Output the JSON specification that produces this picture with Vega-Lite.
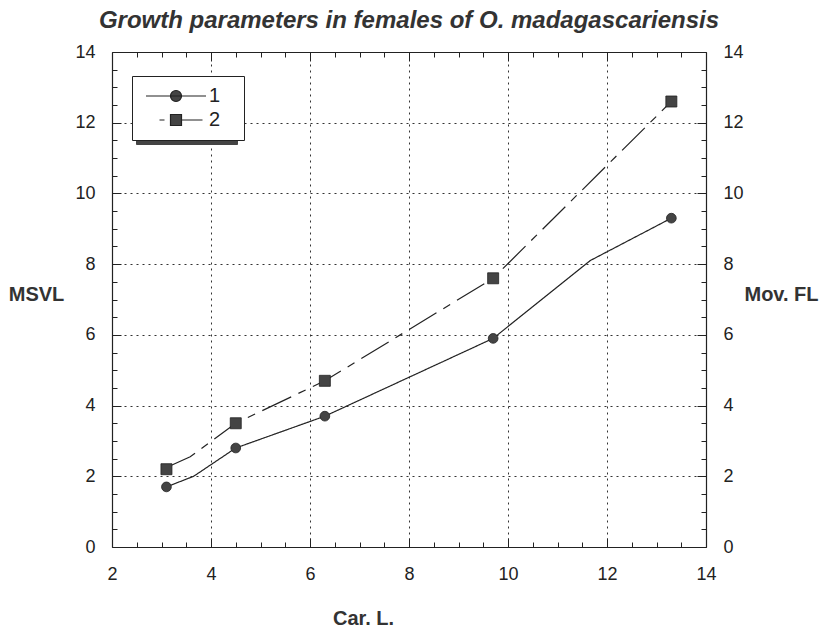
{
  "$schema": "https://vega.github.io/schema/vega-lite/v6.json",
  "width": 594,
  "height": 495,
  "autosize": {"type": "none"},
  "padding": {"left": 112, "top": 52, "right": 122, "bottom": 85},
  "background": "white",
  "title": {
    "text": "Growth parameters in females of O. madagascariensis",
    "font": "Liberation Sans",
    "fontSize": 24,
    "fontStyle": "italic",
    "fontWeight": "bold",
    "color": "#333",
    "anchor": "middle",
    "frame": "group",
    "offset": 10
  },
  "datasets": {
    "lines": [
      {"series": "1", "car": 3.1, "val": 1.7},
      {"series": "1", "car": 3.65, "val": 2.0},
      {"series": "1", "car": 4.5, "val": 2.8},
      {"series": "1", "car": 6.3, "val": 3.7},
      {"series": "1", "car": 9.7, "val": 5.9},
      {"series": "1", "car": 11.66, "val": 8.1},
      {"series": "1", "car": 13.3, "val": 9.3},
      {"series": "2", "car": 3.1, "val": 2.25},
      {"series": "2", "car": 3.58, "val": 2.55},
      {"series": "2", "car": 4.5, "val": 3.5},
      {"series": "2", "car": 6.3, "val": 4.7},
      {"series": "2", "car": 9.7, "val": 7.6},
      {"series": "2", "car": 13.3, "val": 12.6}
    ],
    "points": [
      {"series": "1", "car": 3.1, "val": 1.7},
      {"series": "1", "car": 4.5, "val": 2.8},
      {"series": "1", "car": 6.3, "val": 3.7},
      {"series": "1", "car": 9.7, "val": 5.9},
      {"series": "1", "car": 13.3, "val": 9.3},
      {"series": "2", "car": 3.1, "val": 2.2},
      {"series": "2", "car": 4.5, "val": 3.5},
      {"series": "2", "car": 6.3, "val": 4.7},
      {"series": "2", "car": 9.7, "val": 7.6},
      {"series": "2", "car": 13.3, "val": 12.6}
    ]
  },
  "layer": [
    {
      "data": {"name": "lines"},
      "mark": {"type": "line", "strokeWidth": 1.2, "color": "#222"},
      "encoding": {
        "x": {
          "field": "car", "type": "quantitative",
          "scale": {"domain": [2, 14], "nice": false, "zero": false},
          "axis": {
            "orient": "bottom",
            "title": "Car. L.",
            "titleX": 251, "titleY": 71, "titleAlign": "center", "titleBaseline": "middle",
            "values": [2,2.5,3,3.5,4,4.5,5,5.5,6,6.5,7,7.5,8,8.5,9,9.5,10,10.5,11,11.5,12,12.5,13,13.5,14],
            "labelExpr": "datum.value % 2 === 0 ? format(datum.value, 'd') : ''",
            "labelOverlap": false, "labelFlush": false,
            "labelPadding": 27,
            "tickSize": {"expr": "datum.value % 2 === 0 ? -9 : -5"},
            "grid": true,
            "gridDash": [2, 4],
            "gridColor": "#333",
            "gridOpacity": {"expr": "datum.value % 2 === 0 && datum.value > 2 && datum.value < 14 ? 1 : 0"}
          }
        },
        "y": {
          "field": "val", "type": "quantitative",
          "scale": {"domain": [0, 14], "nice": false},
          "axis": {
            "orient": "left",
            "title": "MSVL",
            "titleAngle": 0, "titleX": -76, "titleY": 242, "titleAlign": "center", "titleBaseline": "middle",
            "values": [0,0.5,1,1.5,2,2.5,3,3.5,4,4.5,5,5.5,6,6.5,7,7.5,8,8.5,9,9.5,10,10.5,11,11.5,12,12.5,13,13.5,14],
            "labelExpr": "datum.value % 2 === 0 ? format(datum.value, 'd') : ''",
            "labelOverlap": false, "labelFlush": false,
            "labelPadding": 26,
            "tickSize": {"expr": "datum.value % 2 === 0 ? -9 : -5"},
            "grid": true,
            "gridDash": [2, 4],
            "gridColor": "#333",
            "gridOpacity": {"expr": "datum.value % 2 === 0 && datum.value > 0 && datum.value < 14 ? 1 : 0"}
          }
        },
        "strokeDash": {
          "field": "series", "type": "nominal",
          "scale": {"domain": ["1", "2"], "range": [[1, 0], [32, 8, 8, 8]]},
          "legend": null
        }
      }
    },
    {
      "data": {"name": "points"},
      "mark": {"type": "point", "filled": true, "color": "#444", "stroke": "#222", "strokeWidth": 0.8, "opacity": 1},
      "encoding": {
        "x": {
          "field": "car", "type": "quantitative",
          "scale": {"domain": [2, 14], "nice": false, "zero": false},
          "axis": {
            "orient": "top",
            "title": null,
            "labels": false,
            "grid": false,
            "values": [2,2.5,3,3.5,4,4.5,5,5.5,6,6.5,7,7.5,8,8.5,9,9.5,10,10.5,11,11.5,12,12.5,13,13.5,14],
            "tickSize": {"expr": "datum.value % 2 === 0 ? -9 : -5"}
          }
        },
        "y": {
          "field": "val", "type": "quantitative",
          "scale": {"domain": [0, 14], "nice": false},
          "axis": {
            "orient": "right",
            "title": "Mov. FL",
            "titleAngle": 0, "titleX": 75, "titleY": 242, "titleAlign": "center", "titleBaseline": "middle",
            "values": [0,0.5,1,1.5,2,2.5,3,3.5,4,4.5,5,5.5,6,6.5,7,7.5,8,8.5,9,9.5,10,10.5,11,11.5,12,12.5,13,13.5,14],
            "labelExpr": "datum.value % 2 === 0 ? format(datum.value, 'd') : ''",
            "labelOverlap": false, "labelFlush": false,
            "labelPadding": 26,
            "tickSize": {"expr": "datum.value % 2 === 0 ? -9 : -5"},
            "grid": false
          }
        },
        "shape": {
          "field": "series", "type": "nominal",
          "scale": {"domain": ["1", "2"], "range": ["circle", "square"]},
          "legend": null
        },
        "size": {
          "field": "series", "type": "nominal",
          "scale": {"domain": ["1", "2"], "range": [95, 121]},
          "legend": null
        }
      }
    },
    {
      "data": {"name": "points"},
      "mark": {"type": "point", "filled": true, "color": "#444", "stroke": "#444", "strokeWidth": 1.2, "opacity": 0},
      "encoding": {
        "x": {"field": "car", "type": "quantitative", "axis": null},
        "y": {"field": "val", "type": "quantitative", "axis": null},
        "shape": {
          "field": "series", "type": "nominal",
          "scale": {"domain": ["1", "2"], "range": [
            "M-6,0H6M1.1,0A1.1,1.1,0,1,1,-1.1,0A1.1,1.1,0,1,1,1.1,0Z",
            "M-3.3,0H-2.3M-1.1,-1.1H1.1V1.1H-1.1ZM1.1,0H5.3"
          ]},
          "legend": {
            "orient": "none", "legendX": 24, "legendY": 28,
            "title": "\u2007",
            "titleOrient": "right",
            "titleFont": "Liberation Sans", "titleFontSize": 20, "titlePadding": 14, "titleOpacity": 0,
            "strokeColor": "#444", "fillColor": "#444",
            "padding": 10,
            "rowPadding": 4,
            "symbolSize": 100,
            "symbolOffset": 24,
            "symbolStrokeWidth": 1.2,
            "symbolOpacity": 0,
            "labelOffset": 23,
            "labelOpacity": 0,
            "labelExpr": "'\u2007'",
            "labelFont": "Liberation Sans", "labelFontSize": 20
          }
        }
      }
    },
    {
      "data": {"name": "points"},
      "mark": {"type": "point", "filled": true, "color": "#444", "stroke": "#222", "strokeWidth": 1.2, "opacity": 0},
      "encoding": {
        "x": {"field": "car", "type": "quantitative", "axis": null},
        "y": {"field": "val", "type": "quantitative", "axis": null},
        "shape": {
          "field": "series", "type": "nominal",
          "scale": {"domain": ["1", "2"], "range": [
            "M-6,0H6M1.1,0A1.1,1.1,0,1,1,-1.1,0A1.1,1.1,0,1,1,1.1,0Z",
            "M-3.3,0H-2.3M-1.1,-1.1H1.1V1.1H-1.1ZM1.1,0H5.3"
          ]},
          "legend": {
            "orient": "none", "legendX": 20, "legendY": 24,
            "title": "\u2007",
            "titleOrient": "right",
            "titleFont": "Liberation Sans", "titleFontSize": 20, "titlePadding": 14, "titleOpacity": 0,
            "strokeColor": "#222", "fillColor": "white",
            "padding": 10,
            "rowPadding": 4,
            "symbolSize": 100,
            "symbolOffset": 24,
            "symbolStrokeWidth": 1.2,
            "symbolOpacity": 1,
            "labelOffset": 23,
            "labelFont": "Liberation Sans", "labelFontSize": 20, "labelColor": "#222"
          }
        }
      }
    }
  ],
  "resolve": {
    "axis": {"x": "independent", "y": "independent"},
    "scale": {"shape": "independent"},
    "legend": {"shape": "independent"}
  },
  "config": {
    "view": {"stroke": null},
    "axis": {
      "domainColor": "#222",
      "domainWidth": 1.2,
      "tickColor": "#222",
      "tickWidth": 1,
      "labelFont": "Liberation Sans",
      "labelFontSize": 18,
      "labelColor": "#222",
      "titleFont": "Liberation Sans",
      "titleFontSize": 20,
      "titleFontWeight": "bold",
      "titleColor": "#333"
    }
  }
}
